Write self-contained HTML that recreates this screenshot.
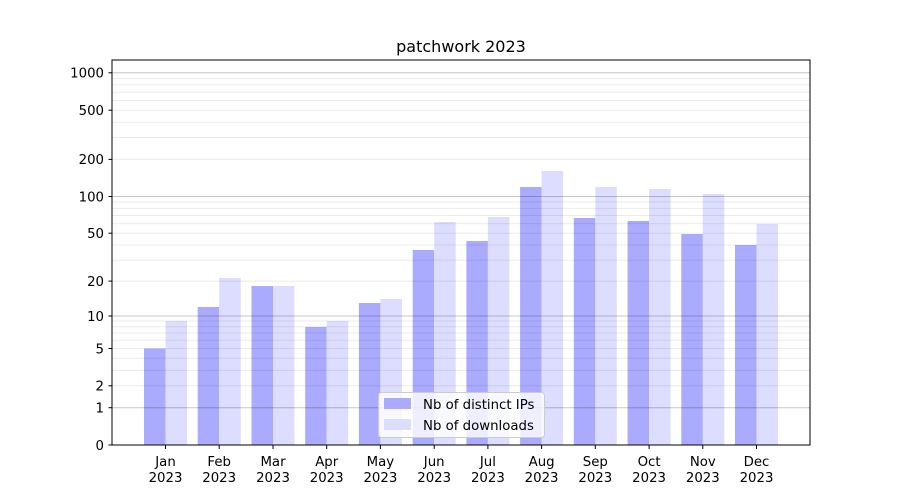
<!DOCTYPE html>
<html><head><meta charset="utf-8"><style>body{margin:0;background:#fff}svg{display:block;font-family:"DejaVu Sans","Liberation Sans",sans-serif}</style></head>
<body>
<svg width="900" height="500" viewBox="0 0 900 500" xmlns="http://www.w3.org/2000/svg">
<rect width="900" height="500" fill="#fff"/>
<g fill="#aaaaff">
<rect x="144" y="348.5" width="21.5" height="96.5"/>
<rect x="197.7" y="307" width="21.5" height="138"/>
<rect x="251.5" y="286" width="21.5" height="159"/>
<rect x="305.2" y="327" width="21.5" height="118"/>
<rect x="358.9" y="303" width="21.5" height="142"/>
<rect x="412.7" y="250" width="21.5" height="195"/>
<rect x="466.4" y="241" width="21.5" height="204"/>
<rect x="520.1" y="187" width="21.5" height="258"/>
<rect x="573.8" y="218" width="21.5" height="227"/>
<rect x="627.6" y="221" width="21.5" height="224"/>
<rect x="681.3" y="234" width="21.5" height="211"/>
<rect x="735" y="245" width="21.5" height="200"/>
</g>
<g fill="#ddddff">
<rect x="165.5" y="321" width="21.5" height="124"/>
<rect x="219.2" y="278" width="21.5" height="167"/>
<rect x="273" y="286" width="21.5" height="159"/>
<rect x="326.7" y="321" width="21.5" height="124"/>
<rect x="380.4" y="299" width="21.5" height="146"/>
<rect x="434.2" y="222" width="21.5" height="223"/>
<rect x="487.9" y="217" width="21.5" height="228"/>
<rect x="541.6" y="171" width="21.5" height="274"/>
<rect x="595.3" y="187" width="21.5" height="258"/>
<rect x="649.1" y="189" width="21.5" height="256"/>
<rect x="702.8" y="194" width="21.5" height="251"/>
<rect x="756.5" y="224" width="21.5" height="221"/>
</g>
<g stroke="#000" stroke-opacity="0.08" stroke-width="1">
<line x1="112" x2="810" y1="385.8" y2="385.8"/><line x1="112" x2="810" y1="370.4" y2="370.4"/><line x1="112" x2="810" y1="358.3" y2="358.3"/><line x1="112" x2="810" y1="348.5" y2="348.5"/><line x1="112" x2="810" y1="340.2" y2="340.2"/><line x1="112" x2="810" y1="333" y2="333"/><line x1="112" x2="810" y1="326.7" y2="326.7"/><line x1="112" x2="810" y1="321" y2="321"/>
<line x1="112" x2="810" y1="281.1" y2="281.1"/><line x1="112" x2="810" y1="260.1" y2="260.1"/><line x1="112" x2="810" y1="245" y2="245"/><line x1="112" x2="810" y1="233.2" y2="233.2"/><line x1="112" x2="810" y1="223.6" y2="223.6"/><line x1="112" x2="810" y1="215.5" y2="215.5"/><line x1="112" x2="810" y1="208.4" y2="208.4"/><line x1="112" x2="810" y1="202" y2="202"/>
<line x1="112" x2="810" y1="159.4" y2="159.4"/><line x1="112" x2="810" y1="137.5" y2="137.5"/><line x1="112" x2="810" y1="122.2" y2="122.2"/><line x1="112" x2="810" y1="110.2" y2="110.2"/><line x1="112" x2="810" y1="100.4" y2="100.4"/><line x1="112" x2="810" y1="92.1" y2="92.1"/><line x1="112" x2="810" y1="84.9" y2="84.9"/><line x1="112" x2="810" y1="78.6" y2="78.6"/>
</g>
<g stroke="#000" stroke-opacity="0.22" stroke-width="1">
<line x1="112" x2="810" y1="407.7" y2="407.7"/><line x1="112" x2="810" y1="316" y2="316"/><line x1="112" x2="810" y1="196.5" y2="196.5"/><line x1="112" x2="810" y1="72.8" y2="72.8"/>
</g>
<rect x="112" y="60" width="698" height="385" fill="none" stroke="#000" stroke-width="1"/>
<g stroke="#000">
<line x1="108.5" x2="112" y1="445" y2="445"/><line x1="108.5" x2="112" y1="407.7" y2="407.7"/><line x1="108.5" x2="112" y1="385.8" y2="385.8"/><line x1="108.5" x2="112" y1="348.5" y2="348.5"/><line x1="108.5" x2="112" y1="316" y2="316"/><line x1="108.5" x2="112" y1="281.1" y2="281.1"/><line x1="108.5" x2="112" y1="233.2" y2="233.2"/><line x1="108.5" x2="112" y1="196.5" y2="196.5"/><line x1="108.5" x2="112" y1="159.4" y2="159.4"/><line x1="108.5" x2="112" y1="110.2" y2="110.2"/><line x1="108.5" x2="112" y1="72.8" y2="72.8"/>
<line x1="165.5" x2="165.5" y1="445" y2="449"/><line x1="219.2" x2="219.2" y1="445" y2="449"/><line x1="273" x2="273" y1="445" y2="449"/><line x1="326.7" x2="326.7" y1="445" y2="449"/><line x1="380.4" x2="380.4" y1="445" y2="449"/><line x1="434.2" x2="434.2" y1="445" y2="449"/><line x1="487.9" x2="487.9" y1="445" y2="449"/><line x1="541.6" x2="541.6" y1="445" y2="449"/><line x1="595.3" x2="595.3" y1="445" y2="449"/><line x1="649.1" x2="649.1" y1="445" y2="449"/><line x1="702.8" x2="702.8" y1="445" y2="449"/><line x1="756.5" x2="756.5" y1="445" y2="449"/>
</g>
<g font-size="13.3" text-anchor="end" fill="#000">
<text x="104" y="450">0</text><text x="104" y="412.5">1</text><text x="104" y="390.5">2</text><text x="104" y="353.5">5</text><text x="104" y="321">10</text><text x="104" y="286">20</text><text x="104" y="238">50</text><text x="104" y="201.5">100</text><text x="104" y="164">200</text><text x="104" y="115">500</text><text x="104" y="77.5">1000</text>
</g>
<g font-size="13.3" text-anchor="middle" fill="#000">
<text x="165.5" y="466">Jan</text><text x="165.5" y="482">2023</text>
<text x="219.2" y="466">Feb</text><text x="219.2" y="482">2023</text>
<text x="273" y="466">Mar</text><text x="273" y="482">2023</text>
<text x="326.7" y="466">Apr</text><text x="326.7" y="482">2023</text>
<text x="380.4" y="466">May</text><text x="380.4" y="482">2023</text>
<text x="434.2" y="466">Jun</text><text x="434.2" y="482">2023</text>
<text x="487.9" y="466">Jul</text><text x="487.9" y="482">2023</text>
<text x="541.6" y="466">Aug</text><text x="541.6" y="482">2023</text>
<text x="595.3" y="466">Sep</text><text x="595.3" y="482">2023</text>
<text x="649.1" y="466">Oct</text><text x="649.1" y="482">2023</text>
<text x="702.8" y="466">Nov</text><text x="702.8" y="482">2023</text>
<text x="756.5" y="466">Dec</text><text x="756.5" y="482">2023</text>
<text x="461" y="52" font-size="16">patchwork 2023</text>
</g>
<rect x="378.5" y="392.5" width="166" height="45" rx="3" fill="#fff" fill-opacity="0.8" stroke="#ccc"/>
<rect x="384" y="398" width="27" height="11" fill="#aaaaff"/>
<rect x="384" y="419" width="27" height="11" fill="#ddddff"/>
<g font-size="13.3" fill="#000">
<text x="423" y="409">Nb of distinct IPs</text>
<text x="423" y="430">Nb of downloads</text>
</g>
</svg>
</body></html>
